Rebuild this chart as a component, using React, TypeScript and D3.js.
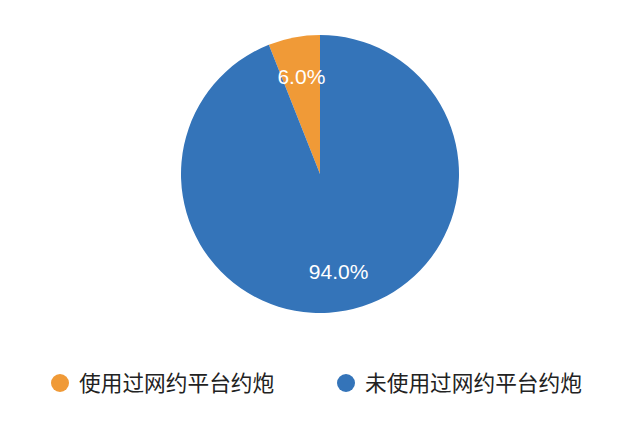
import { useEffect, useRef } from 'react'
import * as d3 from 'd3'

const categories = ['使用过网约平台约炮', '未使用过网约平台约炮']
const shares = [6.0, 94.0]
const colors = ['#F09A37', '#3474B9']

export default function App() {
  const svgRef = useRef<SVGSVGElement>(null)

  useEffect(() => {
    if (!svgRef.current) return
    const svg = d3.select(svgRef.current)
    svg.selectAll('*').remove()

    const width = 640
    const cx = 320
    const cy = 174
    const radius = 139

    const data = categories.map((name, i) => ({ name, value: shares[i], color: colors[i] }))

    // first slice runs counter-clockwise from 12 o'clock
    const startAngle = -(shares[0] / d3.sum(shares)) * Math.PI * 2
    const pie = d3
      .pie<(typeof data)[number]>()
      .value((d) => d.value)
      .sort(null)
      .startAngle(startAngle)
      .endAngle(startAngle + Math.PI * 2)

    const arc = d3.arc<d3.PieArcDatum<(typeof data)[number]>>().innerRadius(0).outerRadius(radius)
    const labelArc = d3
      .arc<d3.PieArcDatum<(typeof data)[number]>>()
      .innerRadius(radius * 0.43)
      .outerRadius(radius)

    const g = svg.append('g').attr('transform', `translate(${cx},${cy})`)
    const arcs = pie(data)

    g.selectAll('path')
      .data(arcs)
      .enter()
      .append('path')
      .attr('d', arc)
      .attr('fill', (d) => d.data.color)

    g.selectAll('text')
      .data(arcs)
      .enter()
      .append('text')
      .attr('transform', (d) => `translate(${labelArc.centroid(d)})`)
      .attr('text-anchor', 'middle')
      .attr('dy', '0.36em')
      .attr('font-family', '"Liberation Sans", Arial, sans-serif')
      .attr('font-size', 21)
      .attr('fill', '#ffffff')
      .text((d) => `${d.data.value.toFixed(1)}%`)

    // legend
    const legendX = d3.scalePoint<string>().domain(categories).range([60, 346])
    const legend = svg
      .append('g')
      .selectAll('g')
      .data(data)
      .enter()
      .append('g')
      .attr('transform', (d) => `translate(${legendX(d.name)},383)`)

    legend.append('circle').attr('r', 9).attr('fill', (d) => d.color)
    legend
      .append('text')
      .attr('x', 19)
      .attr('dy', '0.36em')
      .attr('font-family', '"Noto Sans CJK SC", sans-serif')
      .attr('font-size', 21.7)
      .attr('fill', '#222222')
      .text((d) => d.name)

    svg.attr('width', width)
  }, [])

  return (
    <svg
      ref={svgRef}
      width={640}
      height={427}
      style={{ position: 'absolute', left: 0, top: 0, background: '#ffffff' }}
    />
  )
}
